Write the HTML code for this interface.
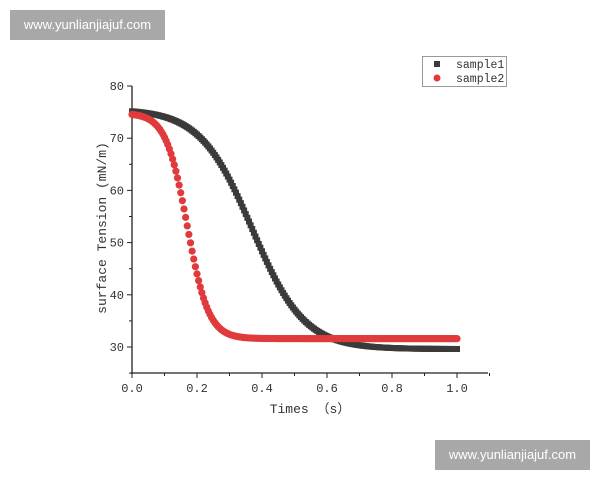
<!DOCTYPE html>
<html><head><meta charset="utf-8"><style>
body{margin:0;background:#fff;width:600px;height:480px;overflow:hidden;position:relative;font-family:"Liberation Mono",monospace}
.wm{position:absolute;background:#a8a8a8;color:#fff;font-family:"Liberation Sans",sans-serif;font-size:13px;line-height:30px;text-align:center;width:155px;height:30px}
</style></head><body>
<div class="wm" style="left:10px;top:10px">www.yunlianjiajuf.com</div>
<div class="wm" style="left:435px;top:440px">www.yunlianjiajuf.com</div>
<svg id="s" width="600" height="480" style="position:absolute;left:0;top:0" font-family="Liberation Mono, monospace" font-size="12" fill="#333">
</svg>
<script>
const s=document.getElementById('s');let h='';
const X=t=>132+t*325, Y=v=>347-(v-30)*5.22;
h+='<line x1="132" y1="86" x2="132" y2="374" stroke="#222" stroke-width="1.3"/>';
h+='<line x1="131" y1="373" x2="488" y2="373" stroke="#222" stroke-width="1.3"/>';
for(let i=0;i<=11;i++){let x=132+i*32.5;h+=`<line x1="${x}" y1="373" x2="${x}" y2="${i%2?376:378}" stroke="#222"/>`;}
for(let i=0;i<=5;i++){h+=`<text x="${X(i*0.2)}" y="392" text-anchor="middle">${(i*0.2).toFixed(1)}</text>`;}
for(let v=25;v<=80;v+=5){let y=Y(v);h+=`<line x1="${v%10?129:127}" y1="${y}" x2="132" y2="${y}" stroke="#222"/>`;if(v%10==0&&v>=30)h+=`<text x="124" y="${y+4}" text-anchor="end">${v}</text>`;}
h+='<text x="310" y="413" text-anchor="middle" font-size="13">Times （s）</text>';
h+='<text transform="translate(106,228) rotate(-90)" text-anchor="middle" font-size="13">surface Tension (mN/m)</text>';
for(let t=0;t<=1.0001;t+=0.005){let v=29.6+46/(1+Math.exp((t-0.37)/0.08));h+=`<rect x="${X(t)-3}" y="${Y(v)-3}" width="6" height="6" fill="#3a3a3a"/>`;}
for(let t=0;t<=1.0001;t+=0.005){let v=31.6+43.2/(1+Math.exp((t-0.17)/0.033));h+=`<circle cx="${X(t)}" cy="${Y(v)}" r="3.6" fill="#e03a3c"/>`;}
h+='<rect x="422.5" y="56.5" width="84" height="30" fill="#fff" stroke="#999"/>';
h+='<rect x="434" y="61" width="6" height="6" fill="#3a3a3a"/><text x="456" y="68" font-size="11.5">sample1</text>';
h+='<circle cx="437" cy="78" r="3.5" fill="#e03a3c"/><text x="456" y="82" font-size="11.5">sample2</text>';
s.innerHTML=h;
</script>
</body></html>
